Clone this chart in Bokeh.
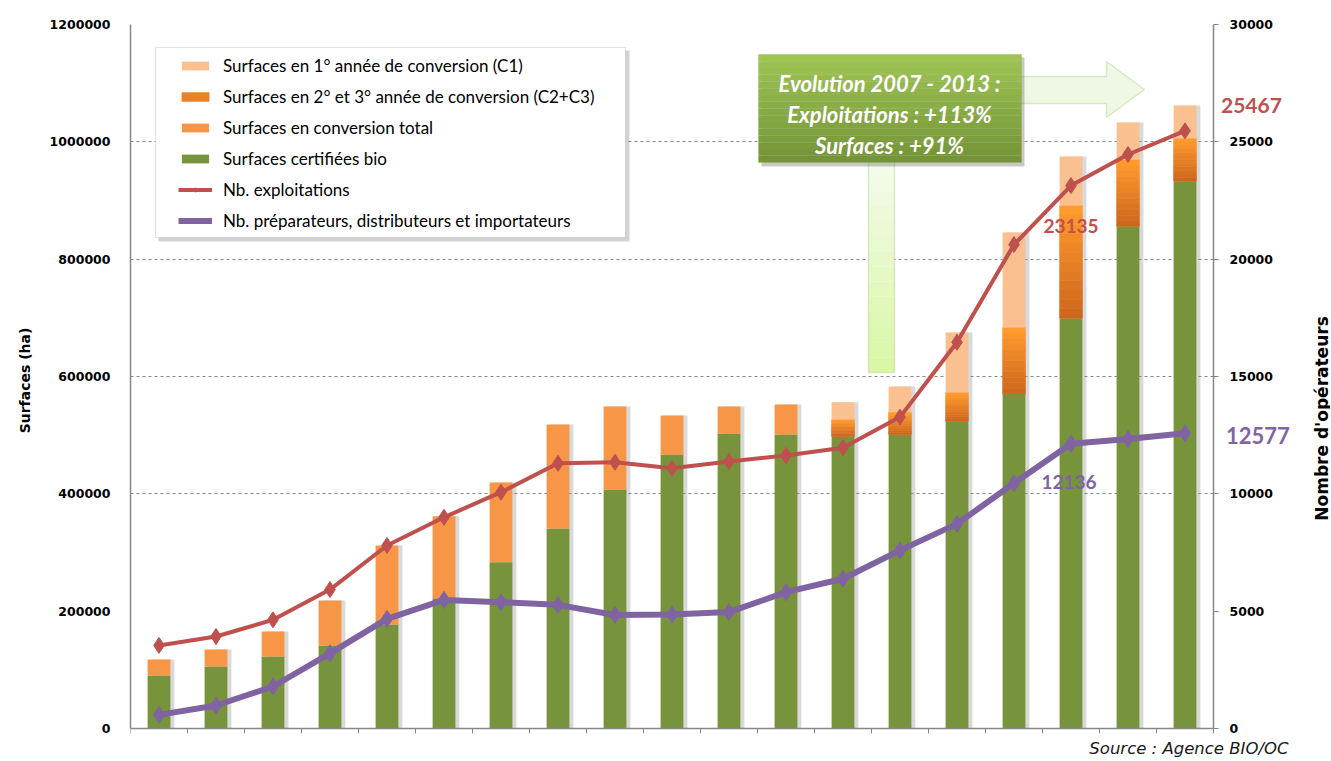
import math
import numpy as np
from bokeh.plotting import figure
from bokeh.models import (Range1d, LinearAxis, FixedTicker, BasicTickFormatter, Legend,
                          LegendItem, Label, BoxAnnotation, PolyAnnotation, ColumnDataSource)
from bokeh.transform import dodge
from bokeh.embed import file_html
from bokeh.resources import INLINE

# ---------------- data ----------------
years = [1995, 1996, 1997, 1998, 1999, 2000, 2001, 2002, 2003, 2004,
         2005, 2006, 2007, 2008, 2009, 2010, 2011, 2012, 2013]
surf_certifiees = [90300, 105700, 122700, 141500, 177300, 222100, 283500, 340900, 407400, 467000,
                   502800, 501100, 497700, 501100, 523300, 570400, 699400, 856200, 932900]
surf_conv_total = [27300, 29000, 42600, 76700, 134600, 139800, 135800, 177300, 141500, 66500,
                   46100, 51200, 0, 0, 0, 0, 0, 0, 0]
surf_c2c3 = [0, 0, 0, 0, 0, 0, 0, 0, 0, 0,
             0, 0, 29000, 38100, 49400, 113100, 192100, 113100, 73300]
surf_c1 = [0, 0, 0, 0, 0, 0, 0, 0, 0, 0,
           0, 0, 29500, 43700, 102300, 161900, 83500, 63700, 55800]
nb_exploitations = [3540, 3920, 4630, 5920, 7800, 9000, 10070, 11300, 11350, 11090,
                    11380, 11630, 11960, 13270, 16460, 20620, 23135, 24460, 25467]
nb_preparateurs = [580, 980, 1790, 3200, 4670, 5480, 5380, 5270, 4840, 4860,
                   4960, 5810, 6380, 7590, 8720, 10450, 12136, 12340, 12577]

left_ticks = [0, 200000, 400000, 600000, 800000, 1000000, 1200000]
right_ticks = [0, 5000, 10000, 15000, 20000, 25000, 30000]

# ---------------- styles ----------------
GREEN = "#77933C"
ORANGE = "#F79646"
PEACH = "#FAC090"
RED = "#C0504D"
PURPLE = "#8064A2"
AXIS = "#868686"
C23_BOTTOM = (0xCF, 0x67, 0x1C)
C23_TOP = (0xFF, 0x9A, 0x2E)

n = len(years)
x = np.arange(n) + 0.5
cert = np.array(surf_certifiees, dtype=float)
conv = np.array(surf_conv_total, dtype=float)
c23 = np.array(surf_c2c3, dtype=float)
c1 = np.array(surf_c1, dtype=float)
total = cert + conv + c23 + c1

W, H = 1330, 760
# reference plot-area geometry in page pixels (x=0..19 -> FL..FR, y=0..max -> FB..FT)
FL, FR, FT, FB = 130, 1213, 24, 728
XMAX = n * (W - FL) / (FR - FL)
YMIN = -left_ticks[-1] * (H - FB) / (FB - FT)
YMAX = left_ticks[-1] * FB / (FB - FT)
RMIN = -right_ticks[-1] * (H - FB) / (FB - FT)
RMAX = right_ticks[-1] * FB / (FB - FT)


def X(px):
    return (px - FL) / (FR - FL) * n


def Y(py):
    return (FB - py) / (FB - FT) * left_ticks[-1]


p = figure(width=W, height=H, x_range=Range1d(0, XMAX), y_range=Range1d(YMIN, YMAX),
           output_backend="svg", toolbar_location=None,
           min_border_left=FL, min_border_right=0, min_border_top=0, min_border_bottom=0,
           x_axis_location=None, y_axis_location=None)
p.outline_line_color = None
p.background_fill_color = "white"
p.extra_y_ranges = {"right": Range1d(RMIN, RMAX)}

# grid
p.xgrid.visible = False
p.ygrid.ticker = FixedTicker(ticks=left_ticks[2:-1])
p.ygrid.grid_line_color = AXIS
p.ygrid.grid_line_dash = "3 3"
p.ygrid.grid_line_width = 1
# hide grid beyond the right axis
p.add_layout(BoxAnnotation(left=n, fill_color="white", fill_alpha=1, line_color=None, level="underlay"))

# x axis (at y = 0)
xa = LinearAxis(ticker=FixedTicker(ticks=list(range(0, n + 1))), fixed_location=0, bounds=(0, n))
xa.major_label_text_font_size = "0px"
xa.major_label_text_color = None
xa.axis_line_color = AXIS
xa.axis_line_width = 1.5
xa.major_tick_line_color = AXIS
xa.major_tick_out = 5
xa.major_tick_in = 0
xa.minor_tick_line_color = None
p.add_layout(xa, "below")

# left axis
ya = LinearAxis(ticker=FixedTicker(ticks=left_ticks), bounds=(0, left_ticks[-1]),
                formatter=BasicTickFormatter(use_scientific=False))
ya.axis_line_color = AXIS
ya.axis_line_width = 1.5
ya.major_tick_line_color = None
ya.major_tick_out = 0
ya.major_tick_in = 0
ya.minor_tick_line_color = None
ya.major_label_standoff = 20
ya.major_label_text_font = "DejaVu Sans"
ya.major_label_text_font_style = "bold"
ya.major_label_text_font_size = "12.5px"
ya.major_label_text_color = "#000000"
ya.axis_label = "Surfaces (ha)"
ya.axis_label_text_font = "DejaVu Sans"
ya.axis_label_text_font_style = "bold"
ya.axis_label_text_font_size = "14px"
ya.axis_label_text_color = "#000000"
ya.axis_label_standoff = 14
p.add_layout(ya, "left")

# right axis (drawn at x = n, inside the extended frame)
ra = LinearAxis(y_range_name="right", ticker=FixedTicker(ticks=right_ticks), fixed_location=n,
                bounds=(0, right_ticks[-1]), formatter=BasicTickFormatter(use_scientific=False))
ra.axis_line_color = AXIS
ra.axis_line_width = 1.5
ra.major_tick_line_color = AXIS
ra.major_tick_out = 5
ra.major_tick_in = 0
ra.minor_tick_line_color = None
ra.major_label_standoff = 11
ra.major_label_text_font = "DejaVu Sans"
ra.major_label_text_font_style = "bold"
ra.major_label_text_font_size = "12.5px"
ra.major_label_text_color = "#000000"
p.add_layout(ra, "right")
p.add_layout(Label(x=X(1321), y=Y(418), text="Nombre d'opérateurs", angle=math.pi / 2,
                   text_align="center", text_baseline="middle", text_font="DejaVu Sans",
                   text_font_style="bold", text_font_size="17px", text_color="#000000"))

# ---------------- legend box (drawn behind) ----------------
p.add_layout(BoxAnnotation(left=X(158), right=X(629), top=Y(50), bottom=Y(241),
                           fill_color="#808080", fill_alpha=0.35, line_color=None, level="glyph"))
p.add_layout(BoxAnnotation(left=X(155), right=X(625), top=Y(47), bottom=Y(237),
                           fill_color="white", fill_alpha=1, line_color="#A0A0A0",
                           line_width=1, level="glyph"))

# ---------------- bars ----------------
BW = 0.40
p.vbar(x=dodge("x", 0.07), width=BW, top="top", bottom=0, fill_color="#808080",
       fill_alpha=0.3, line_color=None, source=ColumnDataSource(dict(x=x, top=total)))

r_cert = p.vbar(x=x, width=BW, bottom=0, top=cert, fill_color=GREEN, line_color=None)
r_conv = p.vbar(x=x, width=BW, bottom=cert, top=cert + conv, fill_color=ORANGE, line_color=None)

# gradient C2+C3
NS = 12
sx, sb, st, sc = [], [], [], []
for i in range(n):
    if c23[i] <= 0:
        continue
    for k in range(NS):
        t = k / (NS - 1)
        col = tuple(int(round(C23_BOTTOM[j] + (C23_TOP[j] - C23_BOTTOM[j]) * t)) for j in range(3))
        sx.append(x[i])
        sb.append(cert[i] + c23[i] * k / NS)
        st.append(cert[i] + c23[i] * (k + 1) / NS)
        sc.append("#%02X%02X%02X" % col)
strip_src = ColumnDataSource(dict(x=sx, bottom=sb, top=st, color=sc))
r_c23 = p.vbar(x="x", width=BW, bottom="bottom", top="top", fill_color="color",
               line_color="color", line_width=0.6, source=strip_src)
r_c1 = p.vbar(x=x, width=BW, bottom=cert + c23, top=cert + c23 + c1, fill_color=PEACH, line_color=None)

# ---------------- lines ----------------
r_red_l = p.line(x, nb_exploitations, y_range_name="right", line_color=RED, line_width=4)
r_red_m = p.scatter(x, nb_exploitations, y_range_name="right", marker="diamond", size=16,
                    fill_color=RED, line_color=RED)
r_pur_l = p.line(x, nb_preparateurs, y_range_name="right", line_color=PURPLE, line_width=6)
r_pur_m = p.scatter(x, nb_preparateurs, y_range_name="right", marker="diamond", size=17,
                    fill_color=PURPLE, line_color=PURPLE)

# ---------------- legend ----------------
legend = Legend(items=[
    LegendItem(label="Surfaces en 1° année de conversion (C1)", renderers=[r_c1], index=12),
    LegendItem(label="Surfaces en 2° et 3° année de conversion (C2+C3)", renderers=[r_c23], index=NS // 2),
    LegendItem(label="Surfaces en conversion total", renderers=[r_conv], index=0),
    LegendItem(label="Surfaces certifiées bio", renderers=[r_cert], index=0),
    LegendItem(label="Nb. exploitations", renderers=[r_red_l, r_red_m]),
    LegendItem(label="Nb. préparateurs, distributeurs et importateurs", renderers=[r_pur_l, r_pur_m]),
], location=(48, H - 231), padding=0, spacing=10, glyph_width=34, glyph_height=11,
    label_standoff=11, label_text_font="Lato", label_text_font_size="17px",
    label_height=20, label_text_color="#000000", background_fill_alpha=0,
    border_line_color=None, margin=0)
p.add_layout(legend)

# ---------------- data labels ----------------
lab_font = "Lato"
p.add_layout(Label(x=x[16], y=nb_exploitations[16], y_range_name="right", text=str(nb_exploitations[16]),
                   text_align="center", text_baseline="middle", y_offset=-40,
                   text_font=lab_font, text_font_style="bold", text_font_size="19px", text_color=RED))
p.add_layout(Label(x=x[16], y=nb_preparateurs[16], y_range_name="right", text=str(nb_preparateurs[16]),
                   text_align="center", text_baseline="middle", y_offset=-38, x_offset=-2,
                   text_font=lab_font, text_font_style="bold", text_font_size="19px", text_color=PURPLE))
p.add_layout(Label(x=x[18], y=nb_exploitations[18], y_range_name="right", text=str(nb_exploitations[18]),
                   text_align="left", text_baseline="middle", y_offset=25, x_offset=36,
                   text_font=lab_font, text_font_style="bold", text_font_size="21px", text_color=RED))
p.add_layout(Label(x=x[18], y=nb_preparateurs[18], y_range_name="right", text=str(nb_preparateurs[18]),
                   text_align="left", text_baseline="middle", y_offset=-2, x_offset=41,
                   text_font=lab_font, text_font_style="bold", text_font_size="22px", text_color=PURPLE))

# ---------------- callout ----------------
# right arrow
p.add_layout(PolyAnnotation(xs=[X(1015), X(1106), X(1106), X(1144), X(1106), X(1106), X(1015)],
                            ys=[Y(76), Y(76), Y(61), Y(89), Y(117), Y(103), Y(103)],
                            fill_color="#EEF8E4", fill_alpha=1, line_color="#9BBB59", line_width=1.5))
# vertical bar
VS = 14
v_top, v_bot = 160, 372
for k in range(VS):
    t = k / (VS - 1)
    c0 = (0xF3, 0xFB, 0xEA)
    c1c = (0xD9, 0xF7, 0xA6)
    col = "#%02X%02X%02X" % tuple(int(round(c0[j] + (c1c[j] - c0[j]) * t)) for j in range(3))
    yt = v_top + (v_bot - v_top) * k / VS
    yb = v_top + (v_bot - v_top) * (k + 1) / VS
    p.add_layout(BoxAnnotation(left=X(868), right=X(894), top=Y(yt), bottom=Y(yb),
                               fill_color=col, fill_alpha=1, line_color=None))
p.add_layout(BoxAnnotation(left=X(868), right=X(894), top=Y(v_top), bottom=Y(v_bot),
                           fill_alpha=0, line_color="#9BBB59", line_width=1.5))
# box shadow
p.add_layout(BoxAnnotation(left=X(761), right=X(1024), top=Y(57), bottom=Y(166),
                           fill_color="#606060", fill_alpha=0.35, line_color=None))
BS = 16
b_top, b_bot = 54, 162
for k in range(BS):
    t = k / (BS - 1)
    c0 = (0x9E, 0xC4, 0x52)
    c1c = (0x74, 0x94, 0x38)
    col = "#%02X%02X%02X" % tuple(int(round(c0[j] + (c1c[j] - c0[j]) * t)) for j in range(3))
    yt = b_top + (b_bot - b_top) * k / BS
    yb = b_top + (b_bot - b_top) * (k + 1) / BS
    p.add_layout(BoxAnnotation(left=X(758), right=X(1021), top=Y(yt), bottom=Y(yb),
                               fill_color=col, fill_alpha=1, line_color=None))
p.add_layout(BoxAnnotation(left=X(758), right=X(1021), top=Y(b_top), bottom=Y(b_bot),
                           fill_alpha=0, line_color="#8DB04A", line_width=1))
for txt, py in [("Evolution 2007 - 2013 :", 83), ("Exploitations : +113%", 114), ("Surfaces : +91%", 145)]:
    p.add_layout(Label(x=X(889), y=Y(py), text=txt, text_align="center", text_baseline="middle",
                       text_font="Lato", text_font_style="bold italic", text_font_size="22px",
                       text_color="white"))

# source
p.add_layout(Label(x=X(1288), y=Y(748), text="Source : Agence BIO/OC", text_align="right",
                   text_baseline="alphabetic", text_font="DejaVu Sans", text_font_style="italic",
                   text_font_size="16.5px", text_color="#1a1a1a"))

open("out.html", "w").write(file_html(p, INLINE))
